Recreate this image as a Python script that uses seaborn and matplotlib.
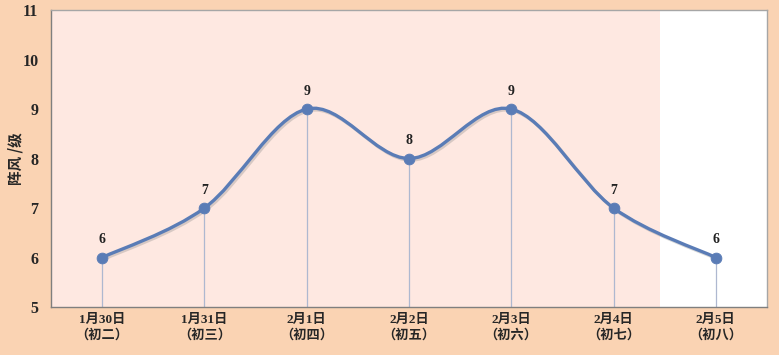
import numpy as np
import pandas as pd
import matplotlib
matplotlib.use("Agg")
import matplotlib.pyplot as plt
import matplotlib.patheffects as pe
from matplotlib.path import Path
from matplotlib.patches import PathPatch
import seaborn as sns

# data
dates = ["1月30日", "1月31日", "2月1日", "2月2日", "2月3日", "2月4日", "2月5日"]
lunar = ["初二", "初三", "初四", "初五", "初六", "初七", "初八"]
gust = [6, 7, 9, 8, 9, 7, 6]

sns.set_style("white")
plt.rcParams['font.family'] = ['Liberation Serif', 'Noto Sans CJK SC', 'DejaVu Sans']
plt.rcParams['font.weight'] = 'bold'

peach = "#FAD3B3"
pink = "#FEE8E1"
line_c = "#5A7CB6"

df = pd.DataFrame({"x": np.arange(len(gust)), "gust": gust})

fig = plt.figure(figsize=(7.79, 3.55), dpi=100, facecolor=peach)
ax = fig.add_axes([0.0655, 0.1352, 0.919, 0.8366])
ax.set_facecolor("white")
n = len(gust)
ax.set_xlim(-0.5, n - 0.5)
ax.set_ylim(5, 11)

# shaded (pink) part of the plot area, last day stays white
ax.axvspan(-0.5, n - 1.55, color=pink, zorder=0, lw=0)

# drop lines
ax.vlines(df["x"], 5, df["gust"], color="#AEB8D0", lw=0.9, zorder=1)

# smooth line (Excel-style bezier through the points)
pts = np.column_stack([df["x"], df["gust"]]).astype(float)
ext = np.vstack([pts[0], pts, pts[-1]])
verts = [tuple(pts[0])]
codes = [Path.MOVETO]
for i in range(n - 1):
    p0, p1, p2, p3 = ext[i], ext[i + 1], ext[i + 2], ext[i + 3]
    c1 = p1 + (p2 - p0) / 6
    c2 = p2 - (p3 - p1) / 6
    verts += [tuple(c1), tuple(c2), tuple(p2)]
    codes += [Path.CURVE4] * 3
curve = PathPatch(Path(verts, codes), fc="none", ec=line_c, lw=2.4, zorder=3,
                  path_effects=[pe.SimpleLineShadow(offset=(1.2, -1.2), alpha=0.3, shadow_color="gray"),
                                pe.Normal()])
ax.add_patch(curve)

sns.scatterplot(data=df, x="x", y="gust", ax=ax, s=60, color=line_c,
                edgecolor=line_c, zorder=4, legend=False)

for x, v in zip(df["x"], df["gust"]):
    ax.annotate(str(v), (x, v), xytext=(0, 8), textcoords="offset points",
                ha="center", va="bottom", fontsize=10, fontweight="bold", color="#222222")

# axes styling
ax.set_xticks(np.arange(n))
ax.set_xticklabels([f"{d}\n（{l}）" for d, l in zip(dates, lunar)], fontsize=9.5,
                   fontweight="bold", linespacing=1.35)
ax.set_xticks(np.arange(n - 1) + 0.5, minor=True)
ax.tick_params(axis="x", which="major", length=0, pad=5)
ax.tick_params(axis="x", which="minor", length=4, color="#7F7F7F", direction="out")
ax.set_yticks(np.arange(5, 12))
ax.set_yticks(np.arange(5.5, 11, 1), minor=True)
ax.tick_params(axis="y", which="major", length=5, color="#7F7F7F", labelsize=11.5, pad=4)
ax.tick_params(axis="y", which="minor", length=3, color="#7F7F7F")
for t in ax.get_yticklabels():
    t.set_fontweight("bold")
ax.set_xlabel("")
ax.set_ylabel("阵风 /级", fontsize=10.5, fontweight="bold",
              family=["Noto Sans CJK SC", "DejaVu Sans"])
ax.yaxis.set_label_coords(-0.038, 0.5)

for s in ["left", "bottom"]:
    ax.spines[s].set_color("#7F7F7F")
    ax.spines[s].set_linewidth(1.0)
for s in ["top", "right"]:
    ax.spines[s].set_color("#A6A6A6")
    ax.spines[s].set_linewidth(1.0)

fig.savefig("out.png", dpi=100, facecolor=peach)
